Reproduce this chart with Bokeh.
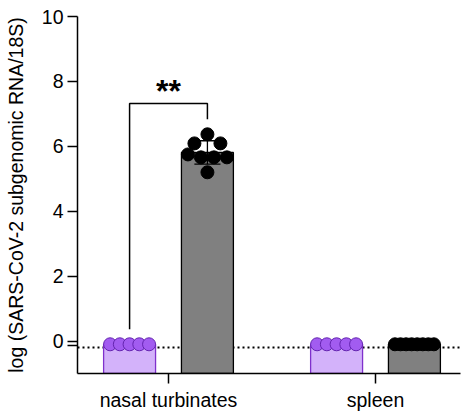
import numpy as np
from bokeh.plotting import figure
from bokeh.models import Range1d, FixedTicker, Span
from bokeh.core.properties import value
from bokeh.embed import file_html
from bokeh.resources import INLINE

# ---------------- data ----------------
tissues = ["nasal turbinates", "spleen"]
conditions = ["mock", "infected"]
nasal_mock = [-0.1, -0.1, -0.1, -0.1, -0.1]
nasal_infected = [5.75, 5.66, 5.66, 5.66, 6.09, 6.37, 6.09, 5.2]
spleen_mock = [-0.1, -0.1, -0.1, -0.1, -0.1]
spleen_infected = [-0.1, -0.1, -0.1, -0.1, -0.1, -0.1, -0.1, -0.1]
lod = -0.2
y_ticks = [0, 2, 4, 6, 8, 10]
extra_ticks = [-0.15]
y_label = "log (SARS-CoV-2 subgenomic RNA/18S)"
significance = "**"

# ---------------- style / layout ----------------
FONT = "Liberation Sans"
FW, FH = 383, 357
x_start, x_end = -0.4396, 1.4106
y_start, y_end = -1, 10
px_x = FW / (x_end - x_start)
px_y = FH / (y_end - y_start)
dodge = 0.188
bar_w = 0.251
dot = 13
cap_w = 0.126

styles = {
    "mock": dict(bar_fill="#d3b2fa", bar_line="#7f30cc", pt_fill="#a25cf0", pt_line="#6424b0"),
    "infected": dict(bar_fill="#808080", bar_line="#000000", pt_fill="#000000", pt_line="#000000"),
}

data = {
    ("nasal turbinates", "mock"): nasal_mock,
    ("nasal turbinates", "infected"): nasal_infected,
    ("spleen", "mock"): spleen_mock,
    ("spleen", "infected"): spleen_infected,
}


def swarm(vals, center):
    vals = np.asarray(vals, dtype=float)
    order = np.argsort(vals, kind="stable")
    rows = []
    for i in order:
        if rows and vals[i] - vals[rows[-1][0]] <= dot / px_y:
            rows[-1].append(i)
        else:
            rows.append([i])
    xs = np.zeros(len(vals))
    width_px = bar_w * px_x
    for r in rows:
        r = sorted(r)
        n = len(r)
        step = dot if n * dot <= width_px else (width_px - dot) / (n - 1)
        for k, i in enumerate(r):
            xs[i] = center + (k - (n - 1) / 2) * step / px_x
    return xs


p = figure(frame_width=FW, frame_height=FH, output_backend="svg", toolbar_location=None,
           x_range=Range1d(x_start, x_end), y_range=Range1d(y_start, y_end),
           min_border_left=77, min_border_right=2, min_border_top=16, min_border_bottom=41)
p.outline_line_color = None
p.grid.visible = False
p.background_fill_color = "white"
p.border_fill_color = "white"

p.add_layout(Span(location=lod, dimension="width", line_color="black", line_width=2,
                  line_dash="2 3", level="underlay"))

centers = {}
for ti, tissue in enumerate(tissues):
    for ci, cond in enumerate(conditions):
        cx = ti + (ci - 0.5) * 2 * dodge
        centers[(tissue, cond)] = cx
        vals = np.asarray(data[(tissue, cond)], dtype=float)
        st = styles[cond]
        mean = vals.mean()
        sd = vals.std(ddof=1)
        p.vbar(x=[cx], top=[mean], bottom=y_start, width=bar_w, fill_color=st["bar_fill"],
               line_color=st["bar_line"], line_width=1.3)
        if sd > 0:
            p.segment(x0=[cx, cx - cap_w / 2, cx - cap_w / 2], x1=[cx, cx + cap_w / 2, cx + cap_w / 2],
                      y0=[mean - sd, mean - sd, mean + sd], y1=[mean + sd, mean - sd, mean + sd],
                      line_color="black", line_width=1.3)
        xs = swarm(vals, cx)
        p.scatter(xs, vals, size=dot, fill_color=st["pt_fill"], line_color=st["pt_line"], line_width=1)

# significance bracket
t0 = tissues[0]
xl, xr = centers[(t0, "mock")], centers[(t0, "infected")]
top_l = max(data[(t0, "mock")])
top_r = max(data[(t0, "infected")])
gap = 15 / px_y
br_y = top_r + 0.95
p.line([xl, xl, xr, xr], [top_l + gap, br_y, br_y, top_r + gap], line_color="black", line_width=1.5)
p.text(x=[(xl + xr) / 2], y=[br_y], text=[significance], text_align="center",
       text_baseline="alphabetic", y_offset=-12, text_font=value(FONT), text_font_size="32px",
       text_font_style="bold", text_color="black")

# axes
for ax in (p.xaxis[0], p.yaxis[0]):
    ax.axis_line_color = "black"
    ax.axis_line_width = 1.5
    ax.major_tick_line_color = "black"
    ax.major_tick_line_width = 1.5
    ax.major_tick_out = 10
    ax.major_tick_in = 0
    ax.minor_tick_line_color = None
    ax.major_label_text_font = FONT
    ax.major_label_text_font_size = "19.5px"
    ax.major_label_text_color = "black"

p.yaxis.ticker = FixedTicker(ticks=y_ticks + extra_ticks)
p.yaxis.major_label_overrides = {t: "" for t in extra_ticks}
p.yaxis.major_label_standoff = 4
p.yaxis.axis_label = y_label
p.yaxis.axis_label_text_font = FONT
p.yaxis.axis_label_text_font_size = "19.5px"
p.yaxis.axis_label_text_font_style = "normal"
p.yaxis.axis_label_text_color = "black"
p.yaxis.axis_label_standoff = 12

p.xaxis.ticker = FixedTicker(ticks=list(range(len(tissues))))
p.xaxis.major_label_overrides = {i: t for i, t in enumerate(tissues)}
p.xaxis.major_label_standoff = 5

open("out.html", "w").write(file_html(p, INLINE))
